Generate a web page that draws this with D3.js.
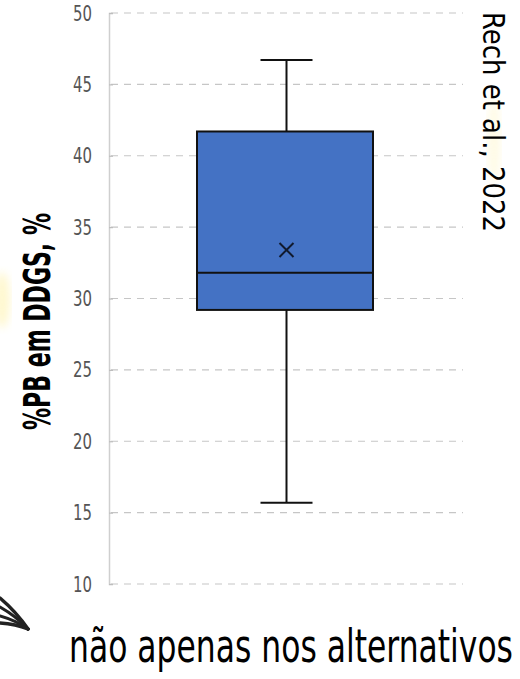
<!DOCTYPE html>
<html>
<head>
<meta charset="utf-8">
<script src="https://cdn.jsdelivr.net/npm/d3@7"></script>
<style>
  html, body { margin: 0; padding: 0; background: #fff; }
  svg { display: block; }
</style>
</head>
<body>
<svg id="chart" width="520" height="679"></svg>
<script>
// Box plot summary for crude protein in DDGS (%)
const category = ["DDGS"];
const whiskerLow = [15.7];
const quartile1 = [29.2];
const medianValue = [31.8];
const quartile3 = [41.7];
const whiskerHigh = [46.7];
const meanValue = [33.4];
const yTicks = [10, 15, 20, 25, 30, 35, 40, 45, 50];

const svg = d3.select("#chart");
const condensed = "'DejaVu Sans Condensed', 'Liberation Sans Narrow', 'DejaVu Sans', sans-serif";

// soft yellow highlight traces at the edges
const defs = svg.append("defs");
defs.append("filter").attr("id", "soft")
  .append("feGaussianBlur").attr("stdDeviation", 4);
svg.append("ellipse").attr("cx", 2).attr("cy", 300).attr("rx", 8).attr("ry", 28)
  .attr("fill", "#fff3b0").attr("opacity", 0.6).attr("filter", "url(#soft)");
svg.append("ellipse").attr("cx", 494).attr("cy", 140).attr("rx", 6).attr("ry", 45)
  .attr("fill", "#fff6c8").attr("opacity", 0.5).attr("filter", "url(#soft)");

const x = d3.scaleBand().domain(category).range([110, 463]).padding(0.5);
const y = d3.scaleLinear().domain([10, 50]).range([584, 13]);

// dashed horizontal gridlines
svg.append("g").selectAll("line").data(yTicks).join("line")
  .attr("x1", 111).attr("x2", 463)
  .attr("y1", d => y(d)).attr("y2", d => y(d))
  .attr("stroke", "#c6c6c6").attr("stroke-width", 1.2)
  .attr("stroke-dasharray", "7,6");

// left axis line and ticks
const axis = d3.axisLeft(y).tickValues(yTicks).tickSize(-4).tickFormat("");
const gAxis = svg.append("g").attr("transform", "translate(109,0)").call(axis);
gAxis.select(".domain").attr("stroke", "#cfcfcf").attr("stroke-width", 1.5);
gAxis.selectAll(".tick line").attr("stroke", "#bdbdbd").attr("stroke-width", 1.2);

// tick labels
svg.append("g").selectAll("text").data(yTicks).join("text")
  .attr("x", 92).attr("y", d => y(d)).attr("dy", "0.36em")
  .attr("text-anchor", "end")
  .attr("font-family", condensed).attr("font-size", 21)
  .attr("textLength", 19).attr("lengthAdjust", "spacingAndGlyphs")
  .attr("fill", "#555")
  .text(d => d);

// box plot
const cx = x(category[0]) + x.bandwidth() / 2;
const boxL = 197, boxR = 373;
const capHalf = 26;
const g = svg.append("g").attr("stroke", "#111").attr("stroke-width", 2);

// whiskers
g.append("line").attr("x1", cx).attr("x2", cx)
  .attr("y1", y(whiskerHigh[0])).attr("y2", y(quartile3[0]));
g.append("line").attr("x1", cx).attr("x2", cx)
  .attr("y1", y(quartile1[0])).attr("y2", y(whiskerLow[0]));
g.append("line").attr("x1", cx - capHalf).attr("x2", cx + capHalf)
  .attr("y1", y(whiskerHigh[0])).attr("y2", y(whiskerHigh[0]));
g.append("line").attr("x1", cx - capHalf).attr("x2", cx + capHalf)
  .attr("y1", y(whiskerLow[0])).attr("y2", y(whiskerLow[0]));

// box
g.append("rect").attr("x", boxL).attr("width", boxR - boxL)
  .attr("y", y(quartile3[0])).attr("height", y(quartile1[0]) - y(quartile3[0]))
  .attr("fill", "#4472c4");
g.append("line").attr("x1", boxL).attr("x2", boxR)
  .attr("y1", y(medianValue[0])).attr("y2", y(medianValue[0]));

// mean marker
const my = y(meanValue[0]), m = 7;
g.append("path")
  .attr("d", `M${cx - m},${my - m}L${cx + m},${my + m}M${cx - m},${my + m}L${cx + m},${my - m}`)
  .attr("stroke", "#111a2e").attr("fill", "none");

// y-axis title
svg.append("text")
  .attr("transform", "translate(50,321.5) rotate(-90)")
  .attr("text-anchor", "middle")
  .attr("font-family", condensed)
  .attr("font-weight", "bold").attr("font-size", 37)
  .attr("textLength", 217).attr("lengthAdjust", "spacingAndGlyphs")
  .attr("fill", "#000")
  .text("%PB em DDGS, %");

// source note on the right
svg.append("text")
  .attr("transform", "translate(483,122) rotate(90)")
  .attr("text-anchor", "middle")
  .attr("font-family", condensed)
  .attr("font-size", 31)
  .attr("textLength", 220).attr("lengthAdjust", "spacingAndGlyphs")
  .attr("fill", "#000")
  .text("Rech et al., 2022");

// caption at the bottom: sized to span 444px, stretched vertically for a tall narrow look
const caption = svg.append("text")
  .attr("text-anchor", "middle")
  .attr("font-family", condensed)
  .attr("font-size", 40)
  .attr("fill", "#000")
  .text("não apenas nos alternativos");
const natural = caption.node().getComputedTextLength();
const capSize = 40 * 444 / natural;
caption.attr("font-size", capSize)
  .attr("transform", `translate(291,662) scale(1,${(46 / capSize).toFixed(3)})`);

// brush-stroke arrow tip in the lower-left corner
const arrow = svg.append("g").attr("stroke", "#222").attr("fill", "none")
  .attr("stroke-linecap", "round");
[[0, 598, 3.5], [0, 607, 3], [0, 616, 3], [0, 623, 3.5]].forEach(([x0, y0, w]) => {
  arrow.append("path")
    .attr("d", `M${x0},${y0}Q16,${(y0 + 629) / 2 - 2} 28,629`)
    .attr("stroke-width", w);
});
</script>
</body>
</html>
